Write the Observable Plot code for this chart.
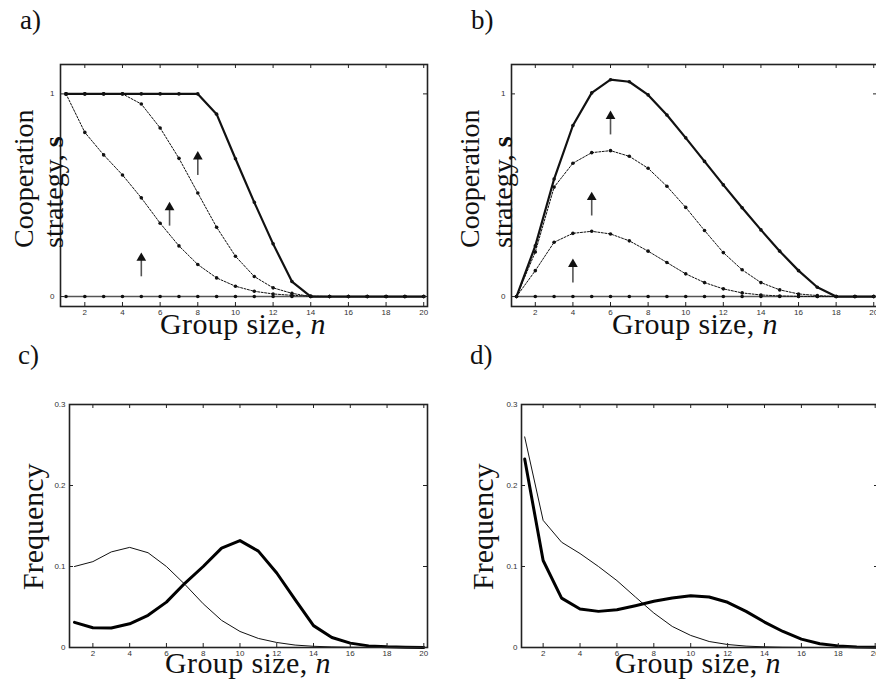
<!DOCTYPE html>
<html><head><meta charset="utf-8">
<script src="https://cdn.jsdelivr.net/npm/d3@7"></script>
<script src="https://cdn.jsdelivr.net/npm/@observablehq/plot@0.6"></script>
<style>
html,body{margin:0;padding:0;overflow:hidden;background:#fff;width:876px;height:682px}
#wrap{position:relative;width:876px;height:682px;overflow:hidden;background:#fff}
.panel{position:absolute}
#overlay{position:absolute;left:0;top:0;pointer-events:none}
</style></head><body><div id="wrap"></div>
<script>
// ---------- data ----------
const groupSize = [1,2,3,4,5,6,7,8,9,10,11,12,13,14,15,16,17,18,19,20];
const xTicks = [2,4,6,8,10,12,14,16,18,20];
const yTicksS = [0,1];
const yTicksF = [0,0.1,0.2,0.3];

// panel a) cooperation strategy
const aTop  = [1,1,1,1,1,1,1,1,0.90,0.68,0.465,0.26,0.074,0,0,0,0,0,0,0];
const aMid  = [1,1,1,1,0.95,0.832,0.682,0.511,0.342,0.199,0.099,0.043,0.016,0,0,0,0,0,0,0];
const aLow  = [1,0.81,0.699,0.60,0.487,0.362,0.25,0.158,0.092,0.051,0.026,0.013,0.006,0.002,0,0,0,0,0,0];
const aZero = [0,0,0,0,0,0,0,0,0,0,0,0,0,0,0,0,0,0,0,0];
const aArrowX  = [5, 6.5, 8];
const aArrowY1 = [0.10, 0.35, 0.60];
const aArrowY2 = [0.20, 0.45, 0.70];

// panel b)
const bTop  = [0,0.25,0.58,0.844,1.005,1.07,1.06,0.995,0.896,0.783,0.667,0.551,0.438,0.329,0.224,0.128,0.046,0,0,0];
const bMid  = [0,0.22,0.54,0.658,0.71,0.72,0.692,0.633,0.544,0.44,0.326,0.217,0.132,0.069,0.033,0.013,0.005,0,0,0];
const bLow  = [0,0.128,0.268,0.312,0.322,0.309,0.275,0.224,0.168,0.112,0.069,0.038,0.018,0.008,0.003,0.001,0,0,0,0];
const bZero = [0,0,0,0,0,0,0,0,0,0,0,0,0,0,0,0,0,0,0,0];
const bArrowX  = [4, 5, 6];
const bArrowY1 = [0.07, 0.40, 0.80];
const bArrowY2 = [0.17, 0.50, 0.90];

// panel c) frequency
const cThin  = [0.100,0.106,0.118,0.1236,0.117,0.100,0.078,0.054,0.0335,0.0198,0.0112,0.0062,0.003,0.0015,0.0007,0.0003,0.0001,0,0,0];
const cThick = [0.031,0.0244,0.024,0.0293,0.0397,0.056,0.0793,0.100,0.1227,0.132,0.119,0.092,0.059,0.027,0.0124,0.0054,0.002,0.0008,0.0003,0.0001];
// panel d)
const dThin  = [0.260,0.157,0.130,0.116,0.100,0.0826,0.0624,0.0426,0.026,0.0149,0.0074,0.0037,0.0017,0.0008,0.0003,0.0001,0,0,0,0];
const dThick = [0.2326,0.1074,0.061,0.0475,0.0446,0.0467,0.0516,0.057,0.061,0.064,0.0624,0.0558,0.0446,0.0314,0.0198,0.0103,0.0046,0.002,0.0007,0.0002];

// ---------- helpers ----------
const rows = s => groupSize.map((n,i) => ({n, v: s[i]}));
const arrows = (xs, y1s, y2s) => xs.map((x,i) => ({x, y1: y1s[i], y2: y2s[i]}));
const wrap = document.getElementById("wrap");

function panel(cfg) {
  const {left, top, width, height, ml, mr, mt, mb, xDomain, yDomain, yTicks, yPad, marks} = cfg;
  const fw = width - ml - mr, fh = height - mt - mb;
  const ink = "#222";
  const p = Plot.plot({
    width, height, marginLeft: ml, marginRight: mr, marginTop: mt, marginBottom: mb,
    x: {domain: xDomain},
    y: {domain: yDomain},
    style: {fontFamily: "'Liberation Sans', Arial, sans-serif", fontSize: "8px", background: "transparent", overflow: "visible", color: "#333"},
    marks: [
      ...marks,
      Plot.tickX(xTicks, {x: d => d, insetTop: fh - 4, stroke: ink, strokeWidth: 1}),
      Plot.tickX(xTicks, {x: d => d, insetBottom: fh - 4, stroke: ink, strokeWidth: 1}),
      Plot.tickY(yTicks, {y: d => d, insetRight: fw - 4, stroke: ink, strokeWidth: 1}),
      Plot.tickY(yTicks, {y: d => d, insetLeft: fw - 4, stroke: ink, strokeWidth: 1}),
      Plot.axisX(xTicks, {anchor: "bottom", tickSize: 0, tickPadding: 3, fontSize: 8, fill: "#333", label: null, tickFormat: d => String(d)}),
      Plot.axisY(yTicks, {anchor: "left", tickSize: 0, tickPadding: yPad, fontSize: 8, fill: "#333", label: null, tickFormat: d => String(d)}),
      Plot.frame({stroke: ink, strokeWidth: 1.6})
    ]
  });
  p.classList.add("panel");
  p.style.left = left + "px";
  p.style.top = top + "px";
  wrap.appendChild(p);
}

const dashed = s => Plot.line(rows(s), {x: "n", y: "v", stroke: "#111", strokeWidth: 1, strokeDasharray: "2,1.5"});
const dots = s => Plot.dot(rows(s), {x: "n", y: "v", r: 1.8, fill: "#111", stroke: "none"});
const arrowMarks = a => [
  Plot.link(a, {x1: "x", x2: "x", y1: "y1", y2: "y2", stroke: "#555", strokeWidth: 1.6}),
  Plot.dot(a, {x: "x", y: "y2", symbol: "triangle", r: 3.6, fill: "#111", stroke: "none", dy: 2})
];

// a)
panel({left: 0, top: 40, width: 440, height: 300, ml: 60, mr: 13, mt: 24, mb: 34,
  xDomain: [0.708, 20.2], yDomain: [-0.049, 1.145], yTicks: yTicksS, yPad: 6,
  marks: [
    Plot.line(rows(aZero), {x: "n", y: "v", stroke: "#555", strokeWidth: 1.6}),
    dashed(aLow), dashed(aMid),
    Plot.line(rows(aTop), {x: "n", y: "v", stroke: "#111", strokeWidth: 2.2}),
    dots(aZero), dots(aLow), dots(aMid), dots(aTop),
    ...arrowMarks(arrows(aArrowX, aArrowY1, aArrowY2))
  ]});

// b)
panel({left: 440, top: 40, width: 440, height: 300, ml: 71, mr: 3, mt: 24, mb: 34,
  xDomain: [0.734, 20.2], yDomain: [-0.049, 1.145], yTicks: yTicksS, yPad: 6,
  marks: [
    Plot.line(rows(bZero), {x: "n", y: "v", stroke: "#555", strokeWidth: 1.6}),
    dashed(bLow), dashed(bMid),
    Plot.line(rows(bTop), {x: "n", y: "v", stroke: "#111", strokeWidth: 2.2}),
    dots(bZero), dots(bLow), dots(bMid), dots(bTop),
    ...arrowMarks(arrows(bArrowX, bArrowY1, bArrowY2))
  ]});

// c)
panel({left: 0, top: 370, width: 440, height: 312, ml: 69, mr: 13, mt: 34, mb: 35,
  xDomain: [0.728, 20.2], yDomain: [0, 0.3], yTicks: yTicksF, yPad: 4,
  marks: [
    Plot.line(rows(cThin), {x: "n", y: "v", stroke: "#111", strokeWidth: 1}),
    Plot.line(rows(cThick), {x: "n", y: "v", stroke: "#000", strokeWidth: 3})
  ]});

// d)
panel({left: 440, top: 370, width: 440, height: 312, ml: 81, mr: 2, mt: 34, mb: 35,
  xDomain: [0.827, 20.18], yDomain: [0, 0.3], yTicks: yTicksF, yPad: 4,
  marks: [
    Plot.line(rows(dThin), {x: "n", y: "v", stroke: "#111", strokeWidth: 1}),
    Plot.line(rows(dThick), {x: "n", y: "v", stroke: "#000", strokeWidth: 3})
  ]});

// ---------- text overlay ----------
const svg = d3.create("svg").attr("id", "overlay").attr("width", 876).attr("height", 682)
  .style("font-family", "'Liberation Serif', 'Times New Roman', serif").style("fill", "#111");

const panelLetters = [{t: "a)", x: 20, y: 29}, {t: "b)", x: 471, y: 29}, {t: "c)", x: 18, y: 364}, {t: "d)", x: 470, y: 364}];
panelLetters.forEach(d => svg.append("text").attr("x", d.x).attr("y", d.y).attr("font-size", 27).text(d.t));

function xLabel(cx, by) {
  const t = svg.append("text").attr("x", cx).attr("y", by).attr("text-anchor", "middle")
    .attr("font-size", 30).attr("letter-spacing", "0.4px");
  t.append("tspan").text("Group size, ");
  t.append("tspan").attr("font-style", "italic").text("n");
}
xLabel(243, 334); xLabel(695, 334); xLabel(248, 673); xLabel(698, 673);

function coopLabel(x1, x2) {
  svg.append("text").attr("transform", `translate(${x1},248) rotate(-90)`).attr("font-size", 28).text("Cooperation");
  const t = svg.append("text").attr("transform", `translate(${x2},248) rotate(-90)`).attr("font-size", 28);
  t.append("tspan").text("strategy, ");
  t.append("tspan").attr("font-weight", "bold").text("s");
}
coopLabel(33, 63); coopLabel(479, 512);

function freqLabel(x) {
  svg.append("text").attr("transform", `translate(${x},590) rotate(-90)`).attr("font-size", 30).text("Frequency");
}
freqLabel(43); freqLabel(493);

wrap.appendChild(svg.node());
</script></body></html>
